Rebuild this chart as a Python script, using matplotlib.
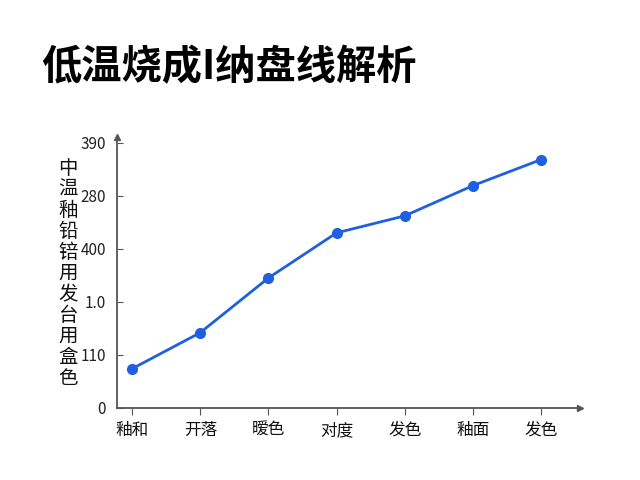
import matplotlib.pyplot as plt

plt.rcParams['font.family'] = ['Noto Sans CJK SC', 'DejaVu Sans']

# 数据
categorias = ["釉和", "开落", "暧色", "对度", "发色", "釉面", "发色"]
valores = [0.74, 1.42, 2.45, 3.30, 3.62, 4.19, 4.68]
y_ticks = [0, 1, 2, 3, 4, 5]
y_tick_labels = ["0", "110", "1.0", "400", "280", "390"]
titulo = "低温烧成I纳盘线解析"
rotulo_y = "中温釉铅锫用发台用盒色"

fig = plt.figure(figsize=(6.4, 4.8), dpi=100)
ax = fig.add_axes([0.183, 0.15, 0.723, 0.565])

xs = list(range(len(categorias)))
ax.plot(xs, valores, color='#1f5fe0', linewidth=2, marker='o',
        markersize=7, markerfacecolor='#1f5fe0', markeredgecolor='#1f5fe0')

ax.set_xlim(-0.22, 6.57)
ax.set_ylim(0, 5.11)
ax.set_xticks(xs)
ax.set_xticklabels(categorias, fontsize=12, color='#111111')
ax.set_yticks(y_ticks)
ax.set_yticklabels(y_tick_labels, fontsize=11, color='#222222')

for lado in ['top', 'right']:
    ax.spines[lado].set_visible(False)
for lado in ['left', 'bottom']:
    ax.spines[lado].set_color('#555555')
    ax.spines[lado].set_linewidth(1.3)
ax.tick_params(axis='x', direction='out', length=5, color='#555555', pad=5)
ax.tick_params(axis='y', direction='in', length=4, color='#555555', pad=8)

# setas nos eixos
ax.plot(1, 0, '>', color='#555555', markersize=5, transform=ax.transAxes, clip_on=False)
ax.plot(0, 1, '^', color='#555555', markersize=5, transform=ax.transAxes, clip_on=False)

fig.text(0.064, 0.858, titulo, fontsize=29, fontweight='heavy', ha='left', va='center')
fig.text(0.106, 0.43, "\n".join(rotulo_y), fontsize=14, ha='center', va='center',
         linespacing=1.0, color='#111111')

fig.savefig('out.png', dpi=100, facecolor='white')
